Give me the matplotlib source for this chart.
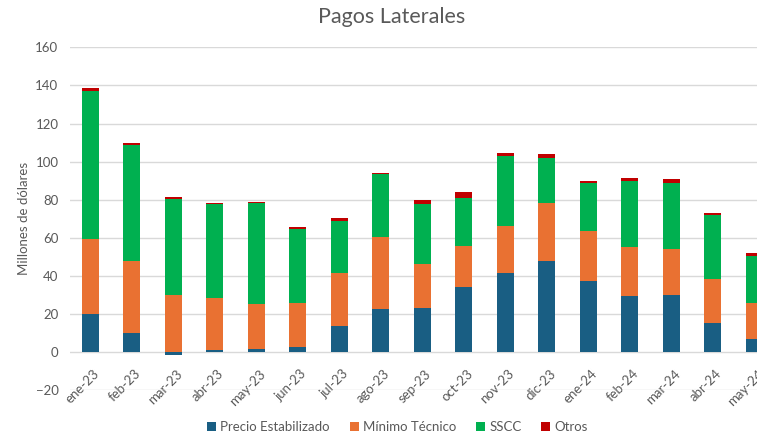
#libraries
import numpy as np
import matplotlib.pyplot as plt
import matplotlib.transforms as mtrans

#data (millones de dolares)
meses = ['ene-23','feb-23','mar-23','abr-23','may-23','jun-23','jul-23','ago-23','sep-23',
         'oct-23','nov-23','dic-23','ene-24','feb-24','mar-24','abr-24','may-24']
precio_estab = [20.0, 10.0, -1.3, 1.4, 1.9, 2.6, 14.0, 22.9, 23.2, 34.4, 41.8, 47.9, 37.2, 29.3, 30.0, 15.3, 6.8]
minimo_tec = [39.3, 38.1, 30.0, 26.9, 23.6, 23.4, 27.8, 37.8, 23.1, 21.4, 24.7, 30.5, 26.5, 25.8, 24.2, 23.1, 19.1]
sscc = [78.0, 60.8, 50.3, 49.3, 52.7, 38.9, 27.1, 32.7, 31.4, 25.3, 36.7, 23.3, 25.2, 34.9, 34.7, 33.7, 24.8]
otros = [1.4, 0.9, 1.2, 0.7, 0.7, 1.0, 1.4, 0.8, 2.3, 2.9, 1.5, 2.3, 1.1, 1.2, 1.8, 1.2, 1.2]

series = [('Precio Estabilizado', precio_estab, '#195E83'),
          ('Mínimo Técnico', minimo_tec, '#E97132'),
          ('SSCC', sscc, '#00B050'),
          ('Otros', otros, '#C00000')]

plt.rcParams['font.family'] = ['Lato', 'DejaVu Sans']
gris = '#595959'

fig = plt.figure(figsize=(7.57, 4.36), dpi=100)
ax = fig.add_axes([69.5/757, 0.1046, 1 - 69.5/757, 0.8915 - 0.1046])

x = np.arange(len(meses))
pos = np.zeros(len(meses))
neg = np.zeros(len(meses))
#stack positives up and negatives down, like excel
for nombre, vals, color in series:
	v = np.array(vals)
	base = np.where(v >= 0, pos, neg)
	ax.bar(x, v, 0.41, bottom=base, color=color, label=nombre, zorder=3)
	pos = pos + np.where(v >= 0, v, 0)
	neg = neg + np.where(v < 0, v, 0)

ax.set_ylim(-20, 160)
ax.set_yticks(np.arange(-20, 161, 20))
ax.set_xlim(-0.5, (757 - 90.3)/41.5)
ax.grid(axis='y', color='#D9D9D9', linewidth=1, zorder=0)
for s in ax.spines.values():
	s.set_visible(False)
ax.tick_params(length=0, colors=gris, labelsize=9.5)
ax.tick_params(axis='y', pad=8)
#category labels sit just under the zero line (excel axis crosses at 0)
ax.tick_params(axis='x', pad=-16.5)
ax.set_xticks(x)
ax.set_xticklabels(meses, rotation=45, ha='right', va='top', rotation_mode='anchor')
off = mtrans.ScaledTranslation(2/72, 0, fig.dpi_scale_trans)
for lab in ax.get_xticklabels():
	lab.set_transform(lab.get_transform() + off)
ax.set_ylabel('Millones de dólares', color=gris, fontsize=9.5)

fig.text(0.517, 0.962, 'Pagos Laterales', ha='center', va='center', fontsize=15.5, color=gris)
fig.legend(loc='center', bbox_to_anchor=(0.525, 0.02), ncol=4, frameon=False,
           fontsize=9.5, handlelength=0.7, handleheight=0.7, handletextpad=0.3,
           columnspacing=1.5, labelcolor=gris)

plt.savefig('out.png')
